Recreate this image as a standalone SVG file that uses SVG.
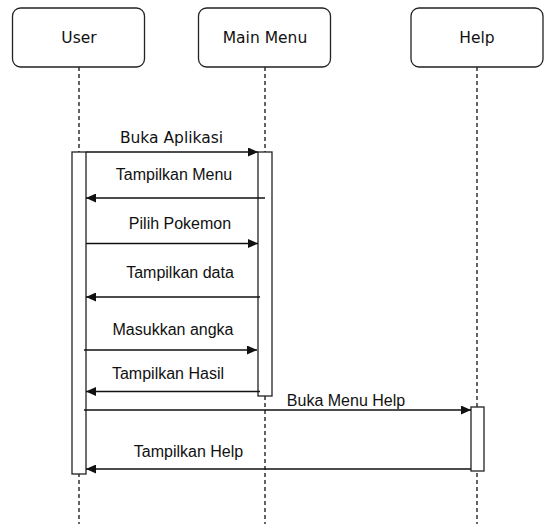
<svg xmlns="http://www.w3.org/2000/svg" width="545" height="524" viewBox="0 0 545 524">
<style>
.box{fill:#fff;stroke:#222;stroke-width:1.3}
.life{stroke:#111;stroke-width:1.3;stroke-dasharray:4 3;fill:none}
.act{fill:#fff;stroke:#222;stroke-width:1.3}
.msg{stroke:#111;stroke-width:1.3;fill:none;marker-end:url(#ah)}
.t{font-family:"DejaVu Sans",sans-serif;font-size:15.5px;fill:#111;text-anchor:middle}
.m{font-family:"Liberation Sans",Arial,sans-serif;font-size:16px;fill:#111;text-anchor:middle}
.mw{font-family:"DejaVu Sans",sans-serif;font-size:15.5px;fill:#111;text-anchor:middle}
</style>
<defs>
<marker id="ah" markerUnits="userSpaceOnUse" markerWidth="11" markerHeight="9" refX="10" refY="4.5" orient="auto">
<path d="M0,0 L10,4.5 L0,9 z" fill="#111"/>
</marker>
</defs>
<rect width="545" height="524" fill="#fff"/>
<g id="user">
<line class="life" x1="79" y1="67" x2="79" y2="524"/>
<rect class="box" x="12.5" y="8" width="132" height="59" rx="8"/>
<text class="t" x="79" y="43">User</text>
<rect class="act" x="72" y="152" width="14" height="322"/>
</g>
<g id="main-menu">
<line class="life" x1="265" y1="67" x2="265" y2="524"/>
<rect class="box" x="198.5" y="8" width="132" height="59" rx="8"/>
<text class="t" x="265" y="43">Main Menu</text>
<rect class="act" x="258" y="152" width="14" height="244"/>
</g>
<g id="help">
<line class="life" x1="477" y1="67" x2="477" y2="524"/>
<rect class="box" x="411" y="8" width="132" height="59" rx="8"/>
<text class="t" x="477" y="43">Help</text>
<rect class="act" x="471" y="407" width="13" height="64"/>
</g>
<g id="connectors">
<line class="msg" x1="86" y1="152" x2="258" y2="152"/>
<text class="mw" x="171.5" y="142.7">Buka Aplikasi</text>
<line class="msg" x1="265" y1="198" x2="86" y2="198"/>
<text class="m" x="174" y="180">Tampilkan Menu</text>
<line class="msg" x1="86" y1="243.5" x2="258" y2="243.5"/>
<text class="m" x="180" y="229">Pilih Pokemon</text>
<line class="msg" x1="260" y1="297" x2="86" y2="297"/>
<text class="m" x="180" y="278">Tampilkan data</text>
<line class="msg" x1="84" y1="350" x2="257" y2="350"/>
<text class="m" x="173" y="335">Masukkan angka</text>
<line class="msg" x1="260" y1="391.5" x2="86" y2="391.5"/>
<text class="m" x="168" y="379">Tampilkan Hasil</text>
<line class="msg" x1="84" y1="410" x2="471" y2="410"/>
<text class="m" x="346" y="406">Buka Menu Help</text>
<line class="msg" x1="471" y1="469" x2="86" y2="469"/>
<text class="m" x="188.5" y="457">Tampilkan Help</text>
</g>
</svg>
